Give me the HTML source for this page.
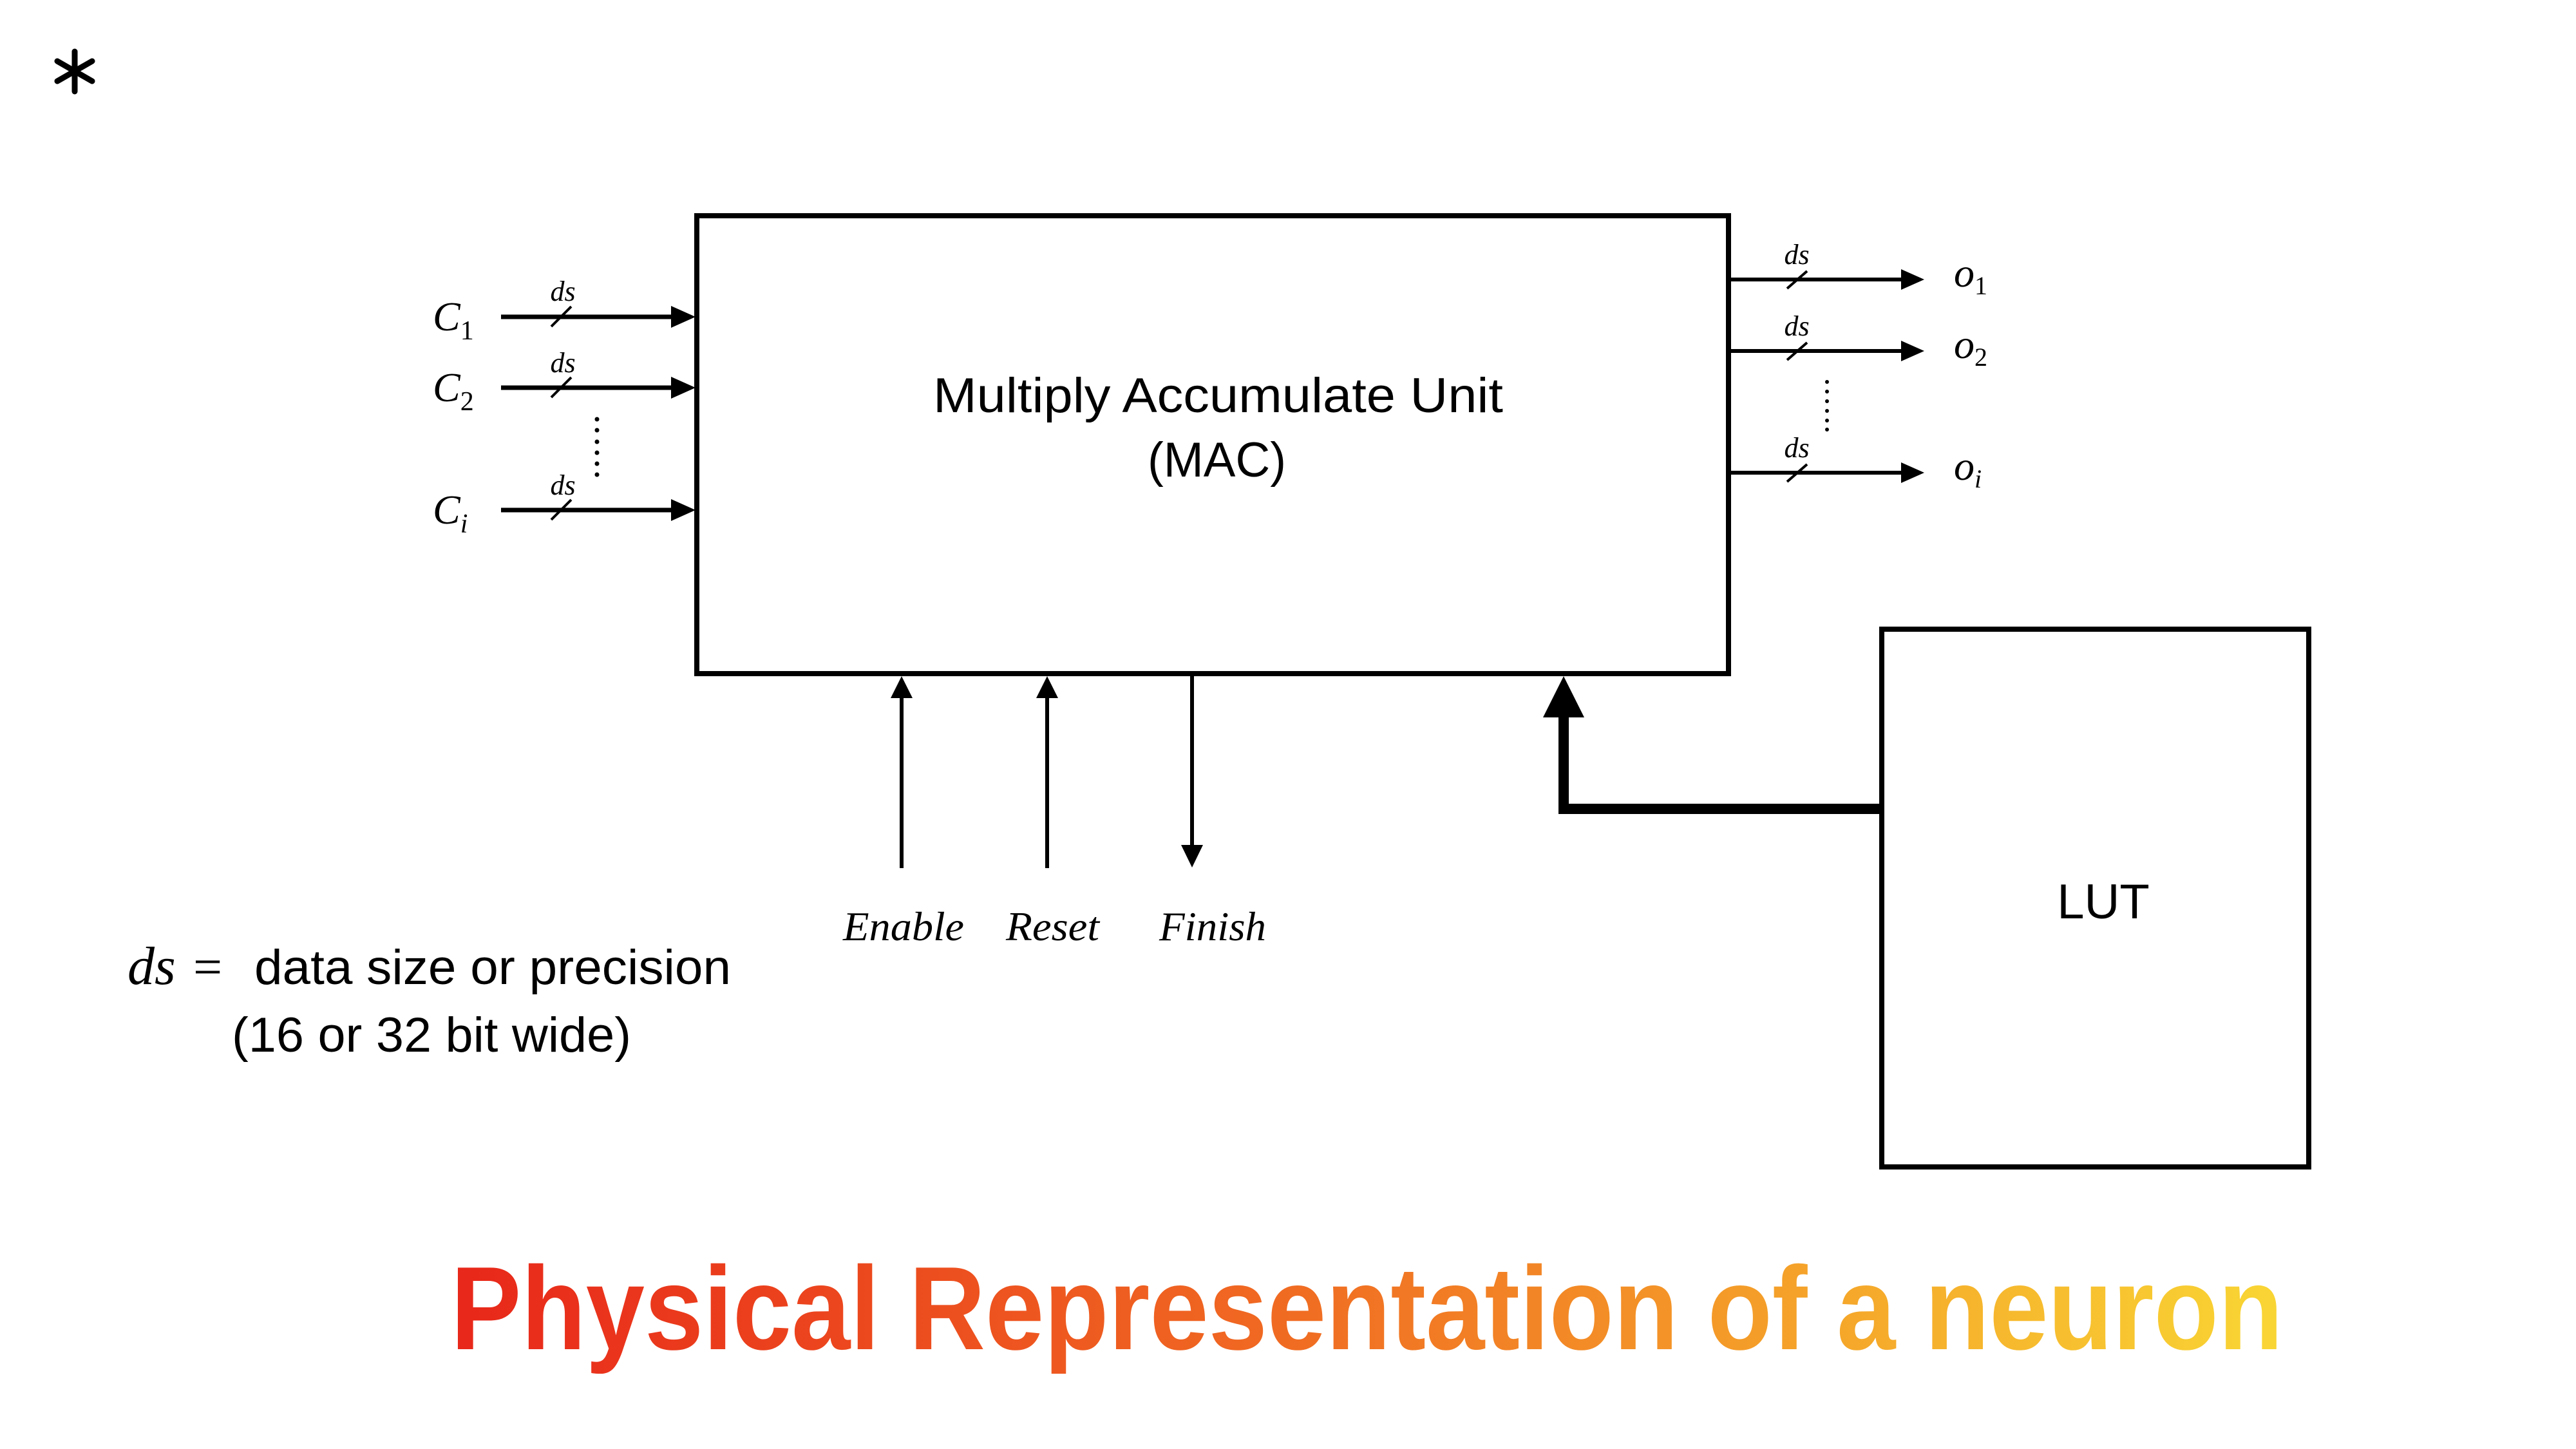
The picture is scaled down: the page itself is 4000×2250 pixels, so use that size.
<!DOCTYPE html>
<html><head><meta charset="utf-8"><style>
html,body{margin:0;padding:0;background:#fff;}
svg{display:block;}
</style></head><body>
<svg width="4000" height="2250" viewBox="0 0 4000 2250" xmlns="http://www.w3.org/2000/svg">
<defs>
<linearGradient id="g" x1="700" y1="0" x2="3545" y2="0" gradientUnits="userSpaceOnUse">
<stop offset="0" stop-color="#e8271a"/>
<stop offset="0.45" stop-color="#f06a22"/>
<stop offset="0.75" stop-color="#f5a52a"/>
<stop offset="1" stop-color="#f9d634"/>
</linearGradient>
</defs>
<!-- asterisk -->
<g stroke="#000" stroke-width="9" stroke-linecap="round">
<line x1="116" y1="80" x2="116" y2="142"/>
<line x1="89" y1="95" x2="143" y2="126"/>
<line x1="89" y1="126" x2="143" y2="95"/>
</g>
<!-- MAC box -->
<rect x="1082" y="335" width="1602" height="711" fill="none" stroke="#000" stroke-width="8"/>
<g font-family="Liberation Sans, sans-serif" font-size="76" fill="#000">
<text x="1449" y="640" textLength="885" lengthAdjust="spacingAndGlyphs">Multiply Accumulate Unit</text>
<text x="1782" y="740" textLength="215" lengthAdjust="spacingAndGlyphs">(MAC)</text>
</g>
<!-- inputs -->
<g stroke="#000" stroke-width="7">
<line x1="778" y1="492" x2="1050" y2="492"/>
<line x1="778" y1="602" x2="1050" y2="602"/>
<line x1="778" y1="792" x2="1050" y2="792"/>
</g>
<g fill="#000">
<polygon points="1042,475 1080,492 1042,509"/>
<polygon points="1042,585 1080,602 1042,619"/>
<polygon points="1042,775 1080,792 1042,809"/>
</g>
<g stroke="#000" stroke-width="4">
<line x1="856" y1="507" x2="887" y2="476"/>
<line x1="856" y1="617" x2="887" y2="586"/>
<line x1="856" y1="807" x2="887" y2="776"/>
</g>
<g font-family="Liberation Serif, serif" font-style="italic" font-size="44" text-anchor="middle">
<text x="874" y="467">ds</text>
<text x="874" y="578">ds</text>
<text x="874" y="768">ds</text>
</g>
<g font-family="Liberation Serif, serif" font-style="italic" font-size="64">
<text x="672" y="513">C<tspan font-style="normal" font-size="42" dy="14">1</tspan></text>
<text x="672" y="623">C<tspan font-style="normal" font-size="42" dy="14">2</tspan></text>
<text x="672" y="813">C<tspan font-size="42" dy="14">i</tspan></text>
</g>
<g fill="#000">
<circle cx="927" cy="651" r="3.5"/><circle cx="927" cy="668" r="3.5"/><circle cx="927" cy="686" r="3.5"/>
<circle cx="927" cy="703" r="3.5"/><circle cx="927" cy="720" r="3.5"/><circle cx="927" cy="737" r="3.5"/>
</g>
<!-- outputs -->
<g stroke="#000" stroke-width="6">
<line x1="2688" y1="434" x2="2960" y2="434"/>
<line x1="2688" y1="545" x2="2960" y2="545"/>
<line x1="2688" y1="734" x2="2960" y2="734"/>
</g>
<g fill="#000">
<polygon points="2952,418 2988,434 2952,450"/>
<polygon points="2952,529 2988,545 2952,561"/>
<polygon points="2952,718 2988,734 2952,750"/>
</g>
<g stroke="#000" stroke-width="4">
<line x1="2775" y1="448" x2="2806" y2="421"/>
<line x1="2775" y1="559" x2="2806" y2="532"/>
<line x1="2775" y1="748" x2="2806" y2="721"/>
</g>
<g font-family="Liberation Serif, serif" font-style="italic" font-size="44" text-anchor="middle">
<text x="2790" y="410">ds</text>
<text x="2790" y="521">ds</text>
<text x="2790" y="710">ds</text>
</g>
<g font-family="Liberation Serif, serif" font-style="italic" font-size="64">
<text x="3034" y="445">o<tspan font-style="normal" font-size="40" dy="12">1</tspan></text>
<text x="3034" y="556">o<tspan font-style="normal" font-size="40" dy="12">2</tspan></text>
<text x="3034" y="745">o<tspan font-size="40" dy="12">i</tspan></text>
</g>
<g fill="#000">
<circle cx="2837" cy="593" r="3"/><circle cx="2837" cy="608" r="3"/><circle cx="2837" cy="623" r="3"/>
<circle cx="2837" cy="638" r="3"/><circle cx="2837" cy="653" r="3"/><circle cx="2837" cy="667" r="3"/>
</g>
<!-- LUT -->
<rect x="2937" y="980" width="663" height="835" fill="none" stroke="#000" stroke-width="8" transform="translate(-15,-3)"/>
<text x="3266" y="1426" font-family="Liberation Sans, sans-serif" font-size="76" text-anchor="middle">LUT</text>
<!-- thick connector -->
<polyline points="2922,1256 2428,1256 2428,1110" fill="none" stroke="#000" stroke-width="16"/>
<polygon points="2396,1114 2428,1050 2460,1114" fill="#000"/>
<!-- control arrows -->
<g stroke="#000" stroke-width="6">
<line x1="1400" y1="1080" x2="1400" y2="1348"/>
<line x1="1626" y1="1080" x2="1626" y2="1348"/>
<line x1="1851" y1="1050" x2="1851" y2="1315"/>
</g>
<g fill="#000">
<polygon points="1383,1084 1400,1050 1417,1084"/>
<polygon points="1609,1084 1626,1050 1643,1084"/>
<polygon points="1834,1312 1851,1347 1868,1312"/>
</g>
<g font-family="Liberation Serif, serif" font-style="italic" font-size="64">
<text x="1309" y="1460" textLength="188" lengthAdjust="spacingAndGlyphs">Enable</text>
<text x="1562" y="1460" textLength="145" lengthAdjust="spacingAndGlyphs">Reset</text>
<text x="1800" y="1460" textLength="166" lengthAdjust="spacingAndGlyphs">Finish</text>
</g>
<!-- legend -->
<text x="198" y="1528" font-family="Liberation Serif, serif" font-style="italic" font-size="84">ds</text>
<text x="300" y="1528" font-family="Liberation Serif, serif" font-size="80">=</text>
<text x="395" y="1528" font-family="Liberation Sans, sans-serif" font-size="76" textLength="740" lengthAdjust="spacingAndGlyphs">data size or precision</text>
<text x="360" y="1633" font-family="Liberation Sans, sans-serif" font-size="76" textLength="620" lengthAdjust="spacingAndGlyphs">(16 or 32 bit wide)</text>
<!-- title -->
<text x="700" y="2095" font-family="Liberation Sans, sans-serif" font-weight="bold" font-size="184" fill="url(#g)" textLength="2845" lengthAdjust="spacingAndGlyphs">Physical Representation of a neuron</text>
</svg>
</body></html>
